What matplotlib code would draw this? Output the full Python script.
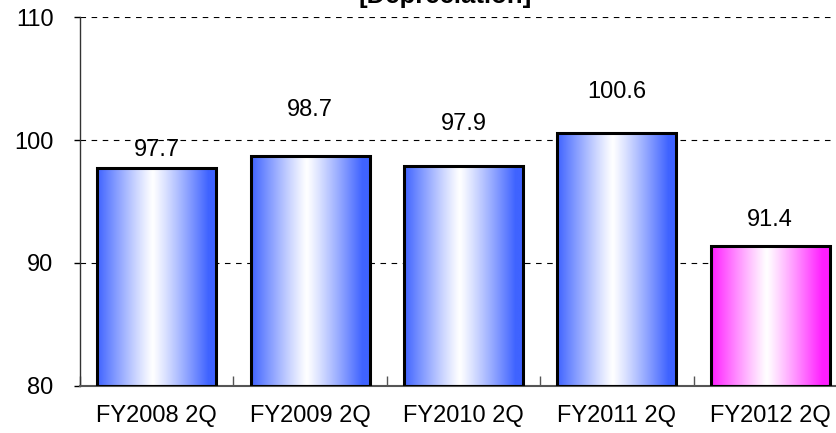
import numpy as np
import matplotlib
matplotlib.use("Agg")
import matplotlib.pyplot as plt
from matplotlib.colors import LinearSegmentedColormap

plt.rcParams['font.family'] = ['Liberation Sans', 'DejaVu Sans']

# Data
categories = ["FY2008 2Q", "FY2009 2Q", "FY2010 2Q", "FY2011 2Q", "FY2012 2Q"]
values = [97.7, 98.7, 97.9, 100.6, 91.4]
yticks = [80, 90, 100, 110]

# Styling
bar_colors = ["#3f63ff", "#3f63ff", "#3f63ff", "#3f63ff", "#ff1eff"]
label_offsets_px = [18.5, 46, 41.5, 41, 25.5]  # label centre above bar top
bar_width = 0.775
font_size = 17

W, H = 836, 433
fig = plt.figure(figsize=(W / 100, H / 100), dpi=100)
left_px, right_px, top_px, bottom_px = 80, 847, 17.3, 385.7
ax = fig.add_axes([left_px / W, (H - bottom_px) / H,
                   (right_px - left_px) / W, (bottom_px - top_px) / H])

ymin, ymax = 80, 110
ax.set_xlim(-0.5, len(categories) - 0.5)
ax.set_ylim(ymin, ymax)

x = np.arange(len(categories))

# Horizontal gradient: colour at the edges, white in the middle
t = np.linspace(0, 1, 256)
profile = np.clip(np.abs(t - 0.47) / 0.47, 0, 1) ** 1.1
grad = profile[np.newaxis, :]

for xi, v, c in zip(x, values, bar_colors):
    cmap = LinearSegmentedColormap.from_list("g", ["#ffffff", c])
    ax.imshow(grad, cmap=cmap, vmin=0, vmax=1, aspect='auto',
              extent=[xi - bar_width / 2, xi + bar_width / 2, ymin, v],
              interpolation='bicubic', zorder=2)

ax.bar(x, [v - ymin for v in values], bottom=ymin, width=bar_width,
       facecolor='none', edgecolor='black', linewidth=2.2, zorder=3)

for xi, v, off in zip(x, values, label_offsets_px):
    ax.annotate(f"{v:.1f}", xy=(xi, v), xytext=(0, off * 0.72),
                textcoords='offset points', ha='center', va='center',
                fontsize=font_size, color='black', zorder=4)

# Grid
ax.set_yticks(yticks)
ax.yaxis.grid(True, linestyle=(0, (5, 5)), color='black', linewidth=0.8)
ax.set_axisbelow(True)

# Category boundaries as small inward ticks
ax.set_xticks(x)
ax.set_xticklabels(categories, fontsize=font_size)
ax.set_xticks(np.arange(len(categories) + 1) - 0.5, minor=True)
ax.tick_params(axis='x', which='major', length=0, pad=14)
ax.tick_params(axis='x', which='minor', direction='in', length=7,
               width=1, color='#555555')
ax.tick_params(axis='y', which='major', direction='out', length=4,
               width=1, labelsize=font_size, pad=15)

for s in ['top', 'right']:
    ax.spines[s].set_visible(False)
ax.spines['left'].set_color('#333333')
ax.spines['bottom'].set_color('#555555')
ax.spines['left'].set_linewidth(1)
ax.spines['bottom'].set_linewidth(1.5)

fig.text(445 / W, 1 - 3 / H, "[Depreciation]", ha='center', va='baseline',
         fontsize=18.5, fontweight='bold')

fig.savefig("out.png", dpi=100)
